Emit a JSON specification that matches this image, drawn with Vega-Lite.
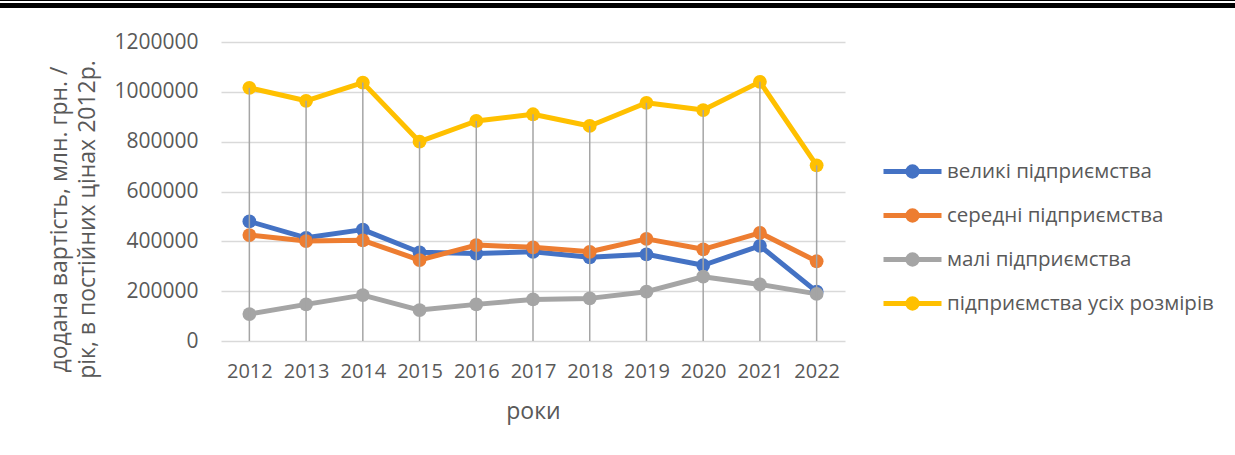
{
  "$schema": "https://vega.github.io/schema/vega-lite/v6.json",
  "padding": {"left": 0, "top": 0, "right": 0, "bottom": 12},
  "background": "white",
  "spacing": 23,
  "config": {
    "font": "Open Sans",
    "view": {"stroke": null},
    "axis": {
      "labelColor": "#595959",
      "titleColor": "#595959",
      "labelFont": "Open Sans",
      "titleFont": "Open Sans",
      "labelFontSize": 20,
      "titleFontSize": 23,
      "titleFontWeight": "normal"
    },
    "legend": {
      "labelColor": "#595959",
      "labelFont": "Open Sans",
      "labelFontSize": 20.5
    }
  },
  "vconcat": [
    {
      "spacing": 2,
      "vconcat": [
        {"width": 1235, "height": 1, "view": {"fill": "black", "stroke": null}, "data": {"values": []}, "mark": "point"},
        {"width": 1235, "height": 5, "view": {"fill": "black", "stroke": null}, "data": {"values": []}, "mark": "point"}
      ]
    },
    {
      "spacing": 47,
      "hconcat": [
        {"width": 1, "height": 1, "data": {"values": []}, "mark": "point"},
        {
          "width": 624,
          "height": 299,
          "data": {
            "values": [
              {"year": "2012", "series": "великі підприємства", "value": 480000},
              {"year": "2013", "series": "великі підприємства", "value": 414000},
              {"year": "2014", "series": "великі підприємства", "value": 447000},
              {"year": "2015", "series": "великі підприємства", "value": 356000},
              {"year": "2016", "series": "великі підприємства", "value": 351000},
              {"year": "2017", "series": "великі підприємства", "value": 358000},
              {"year": "2018", "series": "великі підприємства", "value": 336000},
              {"year": "2019", "series": "великі підприємства", "value": 348000},
              {"year": "2020", "series": "великі підприємства", "value": 304000},
              {"year": "2021", "series": "великі підприємства", "value": 382000},
              {"year": "2022", "series": "великі підприємства", "value": 198000},
              {"year": "2012", "series": "середні підприємства", "value": 425000},
              {"year": "2013", "series": "середні підприємства", "value": 401000},
              {"year": "2014", "series": "середні підприємства", "value": 404000},
              {"year": "2015", "series": "середні підприємства", "value": 325000},
              {"year": "2016", "series": "середні підприємства", "value": 385000},
              {"year": "2017", "series": "середні підприємства", "value": 376000},
              {"year": "2018", "series": "середні підприємства", "value": 358000},
              {"year": "2019", "series": "середні підприємства", "value": 410000},
              {"year": "2020", "series": "середні підприємства", "value": 368000},
              {"year": "2021", "series": "середні підприємства", "value": 434000},
              {"year": "2022", "series": "середні підприємства", "value": 320000},
              {"year": "2012", "series": "малі підприємства", "value": 108000},
              {"year": "2013", "series": "малі підприємства", "value": 147000},
              {"year": "2014", "series": "малі підприємства", "value": 184000},
              {"year": "2015", "series": "малі підприємства", "value": 124000},
              {"year": "2016", "series": "малі підприємства", "value": 147000},
              {"year": "2017", "series": "малі підприємства", "value": 167000},
              {"year": "2018", "series": "малі підприємства", "value": 171000},
              {"year": "2019", "series": "малі підприємства", "value": 198000},
              {"year": "2020", "series": "малі підприємства", "value": 258000},
              {"year": "2021", "series": "малі підприємства", "value": 227000},
              {"year": "2022", "series": "малі підприємства", "value": 189000},
              {"year": "2012", "series": "підприємства усіх розмірів", "value": 1016000},
              {"year": "2013", "series": "підприємства усіх розмірів", "value": 964000},
              {"year": "2014", "series": "підприємства усіх розмірів", "value": 1037000},
              {"year": "2015", "series": "підприємства усіх розмірів", "value": 800000},
              {"year": "2016", "series": "підприємства усіх розмірів", "value": 883000},
              {"year": "2017", "series": "підприємства усіх розмірів", "value": 910000},
              {"year": "2018", "series": "підприємства усіх розмірів", "value": 863000},
              {"year": "2019", "series": "підприємства усіх розмірів", "value": 956000},
              {"year": "2020", "series": "підприємства усіх розмірів", "value": 927000},
              {"year": "2021", "series": "підприємства усіх розмірів", "value": 1040000},
              {"year": "2022", "series": "підприємства усіх розмірів", "value": 705000}
            ]
          },
          "encoding": {
            "x": {
              "field": "year",
              "type": "ordinal",
              "scale": {"type": "point", "padding": 0.5},
              "title": "роки",
              "axis": {
                "labelAngle": 0,
                "domain": false,
                "ticks": false,
                "tickSize": 0,
                "labelPadding": 20,
                "titlePadding": 19,
                "grid": false
              }
            },
            "y": {
              "field": "value",
              "type": "quantitative",
              "scale": {"domain": [0, 1200000], "nice": false},
              "title": ["додана вартість, млн. грн. /", "рік, в постійних цінах 2012р."],
              "axis": {
                "values": [0, 200000, 400000, 600000, 800000, 1000000, 1200000],
                "format": "d",
                "domain": false,
                "ticks": false,
                "tickSize": 0,
                "labelFontSize": 21,
                "labelPadding": 23,
                "gridColor": "#d9d9d9",
                "gridWidth": 1.5,
                "titlePadding": 14.5,
                "titleLineHeight": 28,
                "titleY": 177
              }
            }
          },
          "layer": [
            {
              "mark": {"type": "line", "strokeWidth": 5, "strokeCap": "round", "strokeJoin": "round"},
              "encoding": {
                "color": {
                  "field": "series",
                  "type": "nominal",
                  "title": null,
                  "scale": {
                    "domain": ["великі підприємства", "середні підприємства", "малі підприємства", "підприємства усіх розмірів"],
                    "range": ["#4472C4", "#ED7D31", "#A5A5A5", "#FFC000"]
                  },
                  "legend": {
                    "orient": "none",
                    "legendX": 900,
                    "legendY": 159,
                    "padding": 0,
                    "symbolType": "M-2.9,0L2.9,0M0.47,0A0.47,0.47,0,1,1,-0.47,0A0.47,0.47,0,1,1,0.47,0Z",
                    "symbolSize": 400,
                    "symbolStrokeWidth": 5,
                    "labelOffset": 22,
                    "rowPadding": 13,
                    "labelLimit": 400
                  }
                }
              }
            },
            {
              "mark": {"type": "point", "filled": true, "size": 190, "opacity": 1},
              "encoding": {
                "color": {"field": "series", "type": "nominal", "title": null}
              }
            },
            {
              "transform": [{"filter": "datum.series === 'підприємства усіх розмірів'"}],
              "mark": {"type": "rule", "color": "#A5A5A5", "strokeWidth": 1.5},
              "encoding": {
                "y": {"field": "value", "type": "quantitative"},
                "y2": {"datum": 0}
              }
            }
          ]
        }
      ]
    }
  ]
}
